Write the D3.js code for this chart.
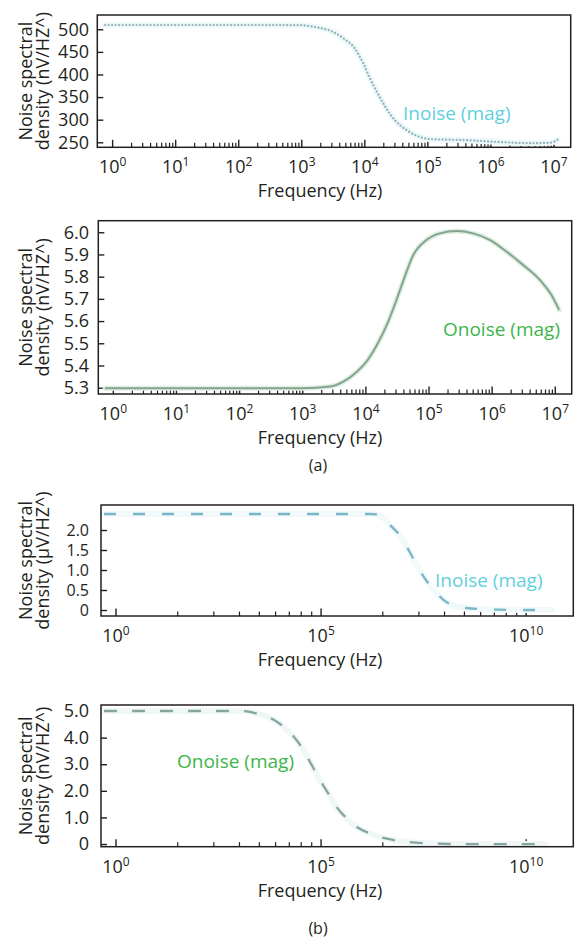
<!DOCTYPE html>
<html>
<head>
<meta charset="utf-8">
<script src="https://cdn.jsdelivr.net/npm/d3@7"></script>
<style>
  body { margin: 0; background: #fff; }
  svg text { font-family: "Open Sans", sans-serif; fill: #231f20; }
</style>
</head>
<body>
<div id="chart"></div>
<script>
// (a) top: input noise, nV/HZ^
var inoiseAFreq = [0.76, 10, 100, 1000, 1.6e3, 2.8e3, 4.6e3, 6.9e3, 9.4e3, 1.2e4, 1.55e4, 2.1e4, 3.0e4, 4.6e4, 7.4e4, 1.07e5, 3.6e5, 1.23e6, 4.2e6, 8.7e6, 1.15e7];
var inoiseAVal  = [509.5, 509.5, 509.5, 509, 505, 497, 480, 458, 425, 392, 362, 329, 299, 277, 262, 257, 255, 251, 248, 249, 256];

// (a) bottom: output noise, nV/HZ^
var onoiseAFreq = [0.74, 10, 100, 1000, 2.7e3, 4.4e3, 7.2e3, 1.02e4, 1.48e4, 2.26e4, 3.1e4, 4.2e4, 5.6e4, 9.1e4, 1.48e5, 2.75e5, 5.0e5, 9.3e5, 1.7e6, 3.1e6, 5.75e6, 8.7e6, 1.15e7];
var onoiseAVal  = [5.298, 5.298, 5.298, 5.298, 5.305, 5.327, 5.372, 5.417, 5.49, 5.598, 5.70, 5.806, 5.896, 5.965, 5.995, 6.006, 5.995, 5.965, 5.912, 5.852, 5.784, 5.717, 5.65];

// (b) top: input noise, uV/HZ^
var inoiseBFreq = [0.51, 1.6e6, 2.3e6, 3.3e6, 5.2e6, 9.3e6, 1.48e7, 2.34e7, 3.8e7, 6.0e7, 9.5e7, 1.7e8, 3.5e8, 7.6e8, 2.3e9, 8.5e9, 4.3e10];
var inoiseBVal  = [2.4, 2.4, 2.39, 2.3, 2.09, 1.80, 1.43, 1.05, 0.72, 0.47, 0.26, 0.11, 0.05, 0.025, 0.008, 0, 0];

// (b) bottom: output noise, nV/HZ^
var onoiseBFreq = [0.51, 1e3, 1.55e3, 2.7e3, 5.75e3, 1.2e4, 2.14e4, 3.7e4, 5.9e4, 9.5e4, 1.5e5, 2.4e5, 4.3e5, 7.4e5, 1.6e6, 4e6, 1.23e7, 5.5e7, 2.0e8, 2.9e10];
var onoiseBVal  = [5.0, 5.0, 4.99, 4.9, 4.74, 4.42, 4.04, 3.54, 2.97, 2.40, 1.90, 1.39, 0.95, 0.64, 0.39, 0.2, 0.08, 0.02, 0, 0];

// tick values
var yTicksA1 = [250, 300, 350, 400, 450, 500];
var yTicksA2 = [5.3, 5.4, 5.5, 5.6, 5.7, 5.8, 5.9, 6.0];
var yTicksB1 = [0, 0.5, 1.0, 1.5, 2.0];
var yTicksB2 = [0, 1.0, 2.0, 3.0, 4.0, 5.0];
var decadesA = [0, 1, 2, 3, 4, 5, 6, 7];
var decadesB = [0, 5, 10];

var width = 576, height = 941;

var svg = d3.select("#chart").append("svg")
    .attr("width", width)
    .attr("height", height);

function zip(f, v) {
    return f.map(function(d, i) { return {f: d, v: v[i]}; });
}

var fmtB = function(d) { return d === 0 ? "0" : d3.format(".1f")(d); };

var panels = [
    {x0: 97.3, x1: 570.7, y0: 15, y1: 147.3, xExp: [-0.243, 7.265], yDom: [238.9, 531.6],
     ticks: yTicksA1, fmt: d3.format("d"), tfs: 18, decades: decadesA, step: 1,
     unit: "density (nV/HZ^)", tx: 32, data: zip(inoiseAFreq, inoiseAVal), kind: "dot",
     label: "Inoise (mag)", lx: 403, ly: 120, lc: "#5fd0de"},
    {x0: 98.3, x1: 571.7, y0: 220.7, y1: 394, xExp: [-0.238, 7.26], yDom: [5.2716, 6.052],
     ticks: yTicksA2, fmt: d3.format(".1f"), tfs: 18, decades: decadesA, step: 1,
     unit: "density (nV/HZ^)", tx: 32, data: zip(onoiseAFreq, onoiseAVal), kind: "solid",
     label: "Onoise (mag)", lx: 443, ly: 336, lc: "#3db54a"},
    {x0: 101, x1: 573.3, y0: 505, y1: 616, xExp: [-0.366, 11.15], yDom: [-0.15, 2.625],
     ticks: yTicksB1, fmt: fmtB, tfs: 16, decades: decadesB, step: 5,
     unit: "density (\u00b5V/HZ^)", tx: 32, data: zip(inoiseBFreq, inoiseBVal), kind: "dashB",
     label: "Inoise (mag)", lx: 435, ly: 587, lc: "#5fd0de"},
    {x0: 101, x1: 573.3, y0: 705, y1: 846.7, xExp: [-0.366, 11.15], yDom: [-0.1, 5.226],
     ticks: yTicksB2, fmt: fmtB, tfs: 18, decades: decadesB, step: 5,
     unit: "density (nV/HZ^)", tx: 32, data: zip(onoiseBFreq, onoiseBVal), kind: "dashO",
     label: "Onoise (mag)", lx: 177, ly: 768, lc: "#3db54a"}
];

panels.forEach(function(p) {
    var g = svg.append("g");

    var x = d3.scaleLog()
        .domain([Math.pow(10, p.xExp[0]), Math.pow(10, p.xExp[1])])
        .range([p.x0, p.x1]);
    var y = d3.scaleLinear()
        .domain(p.yDom)
        .range([p.y1, p.y0]);

    // y axis, ticks inside the frame
    var yAxis = g.append("g")
        .attr("transform", "translate(" + p.x0 + ",0)")
        .call(d3.axisLeft(y).tickValues(p.ticks).tickFormat(p.fmt).tickSize(-6).tickPadding(p.x0 - 89));
    yAxis.select(".domain").remove();
    yAxis.selectAll("line").attr("stroke", "#231f20").attr("stroke-width", 1.4);
    yAxis.selectAll("text")
        .attr("font-size", p.tfs)
        .attr("font-family", "Open Sans, sans-serif")
        .attr("fill", "#231f20");

    // x ticks: majors at decades, minors between
    var minors = [];
    p.decades.forEach(function(dd, i) {
        if (i === p.decades.length - 1) return;
        for (var k = 2; k <= 9; k++) {
            minors.push(Math.pow(10, dd + p.step * Math.log10(k)));
        }
    });
    g.selectAll(".minor").data(minors).enter().append("line")
        .attr("x1", function(d) { return x(d); })
        .attr("x2", function(d) { return x(d); })
        .attr("y1", p.y1)
        .attr("y2", p.y1 - 4.5)
        .attr("stroke", "#231f20")
        .attr("stroke-width", 1.2);
    g.selectAll(".major").data(p.decades).enter().append("line")
        .attr("x1", function(d) { return x(Math.pow(10, d)); })
        .attr("x2", function(d) { return x(Math.pow(10, d)); })
        .attr("y1", p.y1)
        .attr("y2", p.y1 - 7.5)
        .attr("stroke", "#231f20")
        .attr("stroke-width", 1.4);

    var xl = g.selectAll(".xl").data(p.decades).enter().append("text")
        .attr("x", function(d) { return x(Math.pow(10, d)); })
        .attr("y", p.y1 + 26)
        .attr("text-anchor", "middle")
        .attr("font-size", 18);
    xl.append("tspan").text("10");
    xl.append("tspan")
        .attr("font-size", 12)
        .attr("dy", -7)
        .text(function(d) { return d; });

    // axis titles
    var cy = (p.y0 + p.y1) / 2;
    g.append("text")
        .attr("x", 320)
        .attr("y", p.y1 + 50)
        .attr("text-anchor", "middle")
        .attr("font-size", 18)
        .text("Frequency (Hz)");
    var yt = g.append("text")
        .attr("transform", "translate(" + p.tx + "," + cy + ") rotate(-90)")
        .attr("text-anchor", "middle")
        .attr("font-size", 18);
    yt.append("tspan").attr("x", 0).attr("y", 0).text("Noise spectral");
    yt.append("tspan").attr("x", 0).attr("y", 17).text(p.unit);

    // curve
    var line = d3.line()
        .x(function(d) { return x(d.f); })
        .y(function(d) { return y(d.v); })
        .curve(d3.curveMonotoneX);

    var halo = {dot: "#edf8fa", solid: "#dcefdf", dashB: "#f1f9fb", dashO: "#f0f8f7"}[p.kind];
    g.append("path").datum(p.data)
        .attr("d", line)
        .attr("fill", "none")
        .attr("stroke", halo)
        .attr("stroke-width", p.kind === "solid" ? 5 : 6)
        .attr("stroke-linecap", "round");

    var core = g.append("path").datum(p.data)
        .attr("d", line)
        .attr("fill", "none");
    if (p.kind === "dot") {
        core.attr("stroke", "#91b0b8").attr("stroke-width", 2.2)
            .attr("stroke-linecap", "round").attr("stroke-dasharray", "0.1,3.4");
    } else if (p.kind === "solid") {
        core.attr("stroke", "#86a291").attr("stroke-width", 2);
    } else if (p.kind === "dashB") {
        core.attr("stroke", "#7ab5c8").attr("stroke-width", 2.3).attr("stroke-dasharray", "12,17");
    } else {
        core.attr("stroke", "#86a4a0").attr("stroke-width", 2.3).attr("stroke-dasharray", "13,15");
    }

    // frame
    g.append("rect")
        .attr("x", p.x0)
        .attr("y", p.y0)
        .attr("width", p.x1 - p.x0)
        .attr("height", p.y1 - p.y0)
        .attr("fill", "none")
        .attr("stroke", "#231f20")
        .attr("stroke-width", 1.5);

    g.append("text")
        .attr("x", p.lx)
        .attr("y", p.ly)
        .attr("font-size", 19)
        .style("fill", p.lc)
        .text(p.label);
});

svg.append("text").attr("x", 318).attr("y", 471).attr("text-anchor", "middle").attr("font-size", 16).text("(a)");
svg.append("text").attr("x", 318).attr("y", 934).attr("text-anchor", "middle").attr("font-size", 16).text("(b)");
</script>
</body>
</html>
